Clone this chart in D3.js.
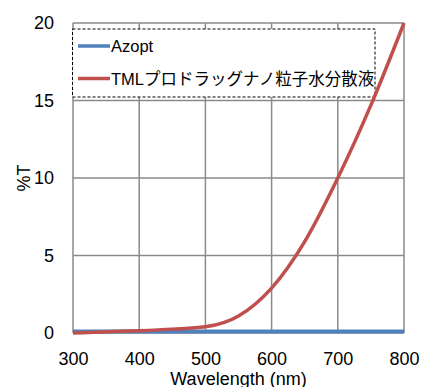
<!DOCTYPE html>
<html lang="ja">
<head>
    <meta charset="UTF-8">
    <script src="https://d3js.org/d3.v7.min.js"></script>
    <title>%T vs Wavelength</title>
    <style>
        body { margin: 0; background: #fff; }
        svg { display: block; }
        text { font-family: Arial, "Liberation Sans", "Noto Sans CJK JP", sans-serif; fill: #000; }
    </style>
</head>
<body>
<svg width="422" height="387"></svg>
<script>
    // data
    const wavelengths = [300, 350, 400, 450, 500, 550, 600, 650, 700, 750, 800];
    const azopt       = [0.1, 0.1, 0.1, 0.1, 0.1, 0.1, 0.1, 0.1, 0.1, 0.1, 0.1];
    const tmlNano     = [0.0, 0.08, 0.15, 0.25, 0.4, 1.1, 2.9, 5.9, 10.0, 14.7, 20.0];
    const xTicks = [300, 400, 500, 600, 700, 800];
    const yTicks = [0, 5, 10, 15, 20];
    const seriesNames = ["Azopt", "TMLプロドラッグナノ粒子水分散液"];
    const seriesColors = ["#4f81bd", "#c0504d"];

    const svg = d3.select("svg");
    const margin = {top: 23, right: 18, bottom: 54, left: 73};
    const width = 422, height = 387;

    const x = d3.scaleLinear().domain([300, 800]).range([margin.left, width - margin.right]);
    const y = d3.scaleLinear().domain([0, 20]).range([height - margin.bottom, margin.top]);

    // grid
    const grid = svg.append("g").attr("stroke", "#8a8a8a").attr("stroke-width", 1.5);
    grid.selectAll(".v").data(xTicks).enter().append("line")
        .attr("x1", d => x(d)).attr("x2", d => x(d))
        .attr("y1", y(0)).attr("y2", y(20));
    grid.selectAll(".h").data(yTicks).enter().append("line")
        .attr("x1", x(300)).attr("x2", x(800))
        .attr("y1", d => y(d)).attr("y2", d => y(d));

    // axes labels via d3 axes (no domain / ticks)
    const xAxis = svg.append("g")
        .attr("transform", `translate(0,${y(0)})`)
        .call(d3.axisBottom(x).tickValues(xTicks).tickSize(0).tickPadding(19));
    const yAxis = svg.append("g")
        .attr("transform", `translate(${x(300)},0)`)
        .call(d3.axisLeft(y).tickValues(yTicks).tickSize(0).tickPadding(19));
    [xAxis, yAxis].forEach(a => {
        a.select(".domain").remove();
        a.selectAll("text").attr("font-size", 18).attr("fill", "#000")
            .attr("font-family", 'Arial, "Liberation Sans", sans-serif');
    });

    svg.append("text")
        .attr("x", (x(300) + x(800)) / 2).attr("y", 385)
        .attr("text-anchor", "middle").attr("font-size", 18)
        .text("Wavelength (nm)");
    svg.append("text")
        .attr("transform", `translate(30,${(y(0) + y(20)) / 2}) rotate(-90)`)
        .attr("text-anchor", "middle").attr("font-size", 18)
        .text("%T");

    // legend
    const legend = svg.append("g");
    legend.append("rect")
        .attr("x", 72.5).attr("y", 29).attr("width", 302.5).attr("height", 68)
        .attr("fill", "#fff").attr("stroke", "#000").attr("stroke-width", 1)
        .attr("stroke-dasharray", "3,2");
    seriesNames.forEach((name, i) => {
        const ly = 46 + i * 32.5;
        legend.append("line")
            .attr("x1", 78).attr("x2", 110).attr("y1", ly).attr("y2", ly)
            .attr("stroke", seriesColors[i]).attr("stroke-width", 3.5);
        legend.append("text")
            .attr("x", 111).attr("y", ly + 6)
            .attr("font-size", 16.5)
            .text(name);
    });

    // lines
    const line = d3.line()
        .x((d, i) => x(wavelengths[i]))
        .y(d => y(d))
        .curve(d3.curveMonotoneX);

    [azopt, tmlNano].forEach((vals, i) => {
        svg.append("path")
            .datum(vals)
            .attr("d", line)
            .attr("fill", "none")
            .attr("stroke", seriesColors[i])
            .attr("stroke-width", i === 0 ? 4 : 3.5)
            .attr("stroke-linecap", "butt");
    });
</script>
</body>
</html>
